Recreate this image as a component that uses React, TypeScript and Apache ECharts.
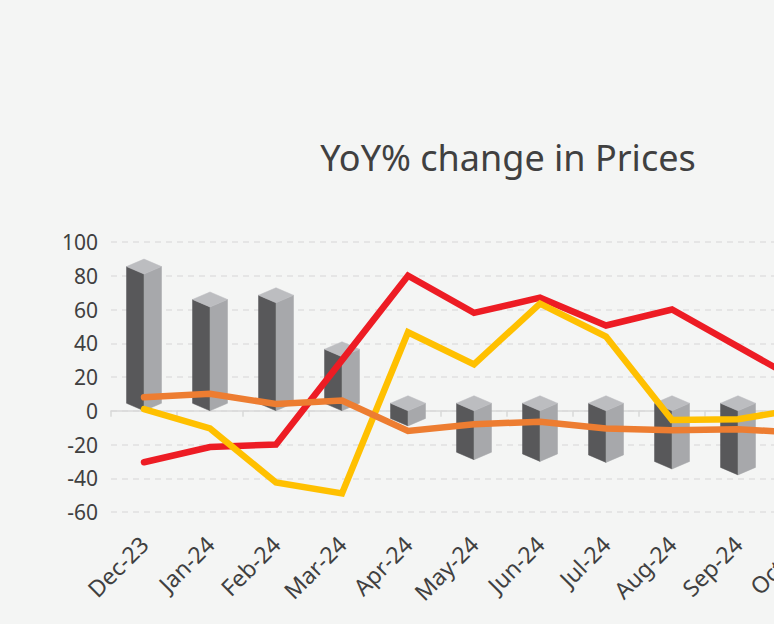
import React, { useEffect, useRef } from "react";
import * as echarts from "echarts";

const categories = ["Dec-23", "Jan-24", "Feb-24", "Mar-24", "Apr-24", "May-24", "Jun-24", "Jul-24", "Aug-24", "Sep-24", "Oct-24"];
const barValues: (number | null)[] = [81, 61.5, 64, 32, -9, -29, -30, -30.6, -34.5, -38, null];
const redValues = [-30.5, -21.5, -20, 30, 80, 58, 67, 50.5, 60, 38, 16];
const yellowValues = [1, -10.5, -42.5, -49, 46.5, 27.5, 63.5, 44, -5.5, -5, 1.5];
const orangeValues = [8, 10, 4, 6, -12, -8, -6.5, -10.5, -11.5, -11, -13];
const yMin = -60;
const yMax = 100;
const yStep = 20;

const FONT = "'Noto Sans', 'Open Sans', sans-serif";
const TEXT = "#404040";

export default function App() {
  const ref = useRef<HTMLDivElement>(null);
  useEffect(() => {
    if (!ref.current) return;
    const chart = echarts.init(ref.current, undefined, { renderer: "svg" });
    const lineSeries = (name: string, data: number[], color: string) => ({
      name,
      type: "line",
      data,
      xAxisIndex: 0,
      yAxisIndex: 0,
      symbol: "none",
      z: 5,
      lineStyle: { color, width: 6.5, cap: "round", join: "miter" },
    });
    chart.setOption({
      animation: false,
      backgroundColor: "#f4f5f4",
      title: {
        text: "YoY% change in Prices",
        left: "center",
        top: 134,
        textStyle: { fontFamily: FONT, fontSize: 36, fontWeight: "normal", color: TEXT },
      },
      grid: { left: 111, right: 179, top: 242, bottom: 112 },
      xAxis: [
        {
          type: "category",
          data: categories,
          position: "bottom",
          axisLine: { show: false, onZero: false },
          axisTick: { show: false },
          splitLine: { show: false },
          axisLabel: {
            rotate: 45,
            margin: 28,
            interval: 0,
            fontFamily: FONT,
            fontSize: 23,
            color: TEXT,
            verticalAlign: "middle",
          },
        },
        {
          type: "category",
          data: categories,
          position: "bottom",
          axisLine: { show: true, onZero: true, lineStyle: { color: "#d9d9d9", width: 1.5 } },
          axisTick: { show: true, length: 6, lineStyle: { color: "#d9d9d9", width: 1.5 } },
          axisLabel: { show: false },
          splitLine: { show: false },
        },
      ],
      yAxis: {
        type: "value",
        min: yMin,
        max: yMax,
        interval: yStep,
        axisLine: { show: false },
        axisTick: { show: false },
        axisLabel: { margin: 13, fontFamily: FONT, fontSize: 21, color: TEXT },
        splitLine: { show: true, lineStyle: { color: "#e0e0e0", width: 1.5, type: [6, 5] } },
      },
      series: [
        {
          type: "custom",
          xAxisIndex: 0,
          yAxisIndex: 0,
          z: 2,
          data: categories.map((c, i) => [i, barValues[i]]),
          encode: { x: 0, y: 1 },
          renderItem: (params: any, api: any) => {
            const v = api.value(1);
            if (v === null || v === undefined || isNaN(v)) return null;
            const idx = api.value(0);
            const top = api.coord([idx, Math.max(v, 0)]);
            const bot = api.coord([idx, Math.min(v, 0)]);
            const cx = top[0];
            const yT = top[1];
            const yB = bot[1];
            const w = 17.5;
            const d = 7.5;
            const face = (points: number[][], fill: string) => ({
              type: "polygon",
              shape: { points },
              style: { fill, stroke: fill, lineWidth: 0.5 },
            });
            return {
              type: "group",
              children: [
                face([[cx - w, yT - d], [cx, yT], [cx, yB], [cx - w, yB - d]], "#58585a"),
                face([[cx, yT], [cx + w, yT - d], [cx + w, yB - d], [cx, yB]], "#a7a8ab"),
                face([[cx - w, yT - d], [cx, yT - 2 * d], [cx + w, yT - d], [cx, yT]], "#bcbdc0"),
              ],
            };
          },
        },
        lineSeries("Red", redValues, "#ed1c24"),
        lineSeries("Yellow", yellowValues, "#ffc000"),
        lineSeries("Orange", orangeValues, "#ed7d31"),
      ],
    });
    return () => chart.dispose();
  }, []);
  return (
    <div
      style={{
        position: "fixed",
        left: 0,
        top: 0,
        width: 774,
        height: 624,
        overflow: "hidden",
        background: "#f4f5f4",
      }}
    >
      <div ref={ref} style={{ width: 1016, height: 624 }} />
    </div>
  );
}
